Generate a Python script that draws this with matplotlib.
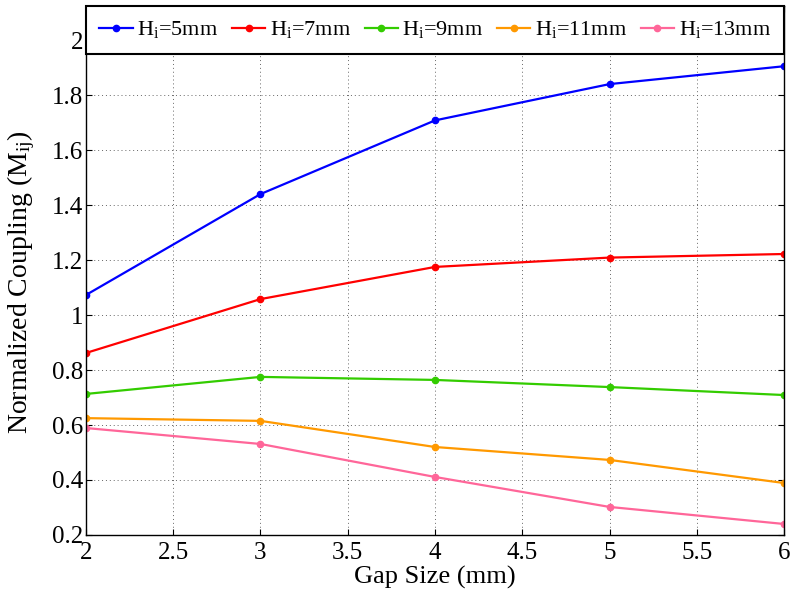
import numpy as np
import matplotlib.pyplot as plt

plt.rcParams['font.family'] = 'Liberation Serif'
plt.rcParams['mathtext.fontset'] = 'custom'
plt.rcParams['mathtext.rm'] = 'Liberation Serif'
plt.rcParams['mathtext.it'] = 'Liberation Serif'

gap = [2, 3, 4, 5, 6]
h5 = [1.073, 1.44, 1.708, 1.84, 1.905]
h7 = [0.862, 1.058, 1.175, 1.209, 1.222]
h9 = [0.713, 0.775, 0.764, 0.738, 0.709]
h11 = [0.625, 0.615, 0.52, 0.473, 0.389]
h13 = [0.589, 0.531, 0.411, 0.302, 0.24]

series = [h5, h7, h9, h11, h13]
labels = [r'H$_{\rm i}$=5mm', r'H$_{\rm i}$=7mm', r'H$_{\rm i}$=9mm',
          r'H$_{\rm i}$=11mm', r'H$_{\rm i}$=13mm']
colors = ['#0000ff', '#ff0000', '#33cc00', '#ff9900', '#ff6699']

fig = plt.figure(figsize=(7.91, 5.91), dpi=100)
ax = fig.add_axes([0.1087, 0.0948, 0.8825, 0.895])

for y, lab, c in zip(series, labels, colors):
    ax.plot(gap, y, '-o', color=c, lw=1.6, markersize=4.5, label=lab)

ax.set_xlim(2, 6)
ax.set_ylim(0.2, 2.124)
ax.set_xticks([2, 2.5, 3, 3.5, 4, 4.5, 5, 5.5, 6])
ax.set_xticklabels(['2', '2.5', '3', '3.5', '4', '4.5', '5', '5.5', '6'])
ax.set_yticks([0.2, 0.4, 0.6, 0.8, 1, 1.2, 1.4, 1.6, 1.8, 2])
ax.set_yticklabels(['0.2', '0.4', '0.6', '0.8', '1', '1.2', '1.4', '1.6', '1.8', '2'])
ax.tick_params(direction='in', labelsize=18, top=True, right=True, length=4, pad=2)
ax.tick_params(axis='x', pad=5)
ax.grid(True, linestyle=(0, (1, 3)), color='#666666', lw=0.7)
for s in ax.spines.values():
    s.set_linewidth(1.0)

ax.set_xlabel('Gap Size (mm)', fontsize=19)
ax.xaxis.set_label_coords(0.5, -0.059)
ax.set_ylabel(r'Normalized Coupling (M$_{\rm ij}$)', fontsize=20)
ax.yaxis.set_label_coords(-0.07, 0.478)

leg = ax.legend(loc='upper left', bbox_to_anchor=(0, 1, 1, 0), mode='expand',
                ncol=5, fontsize=16, frameon=True, fancybox=False,
                borderaxespad=0, handlelength=1.5, handletextpad=0.2,
                columnspacing=0.6, borderpad=0.6)
leg.get_frame().set_edgecolor('black')
leg.get_frame().set_linewidth(1.5)
leg.get_frame().set_alpha(1)

fig.savefig('out.png', dpi=100)
